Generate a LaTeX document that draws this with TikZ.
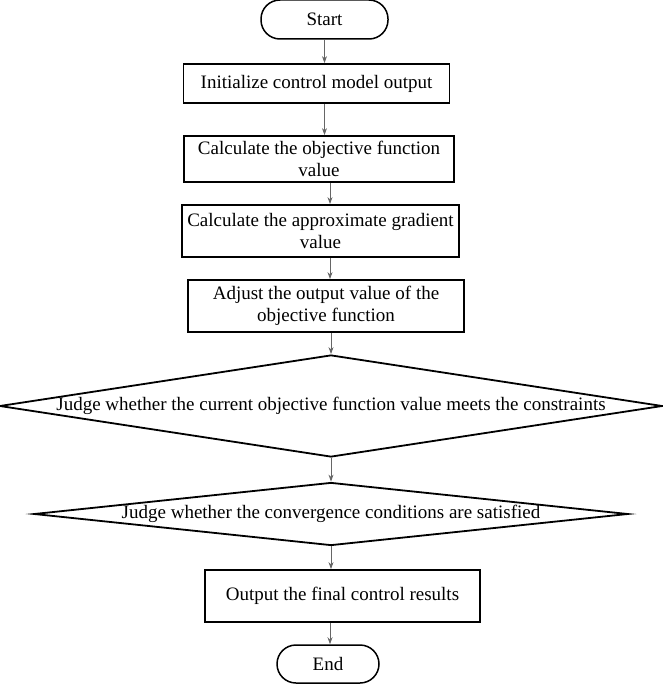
\documentclass[tikz,border=0pt]{standalone}
\usepackage{fontspec}
\setmainfont{Liberation Serif}
\usetikzlibrary{shapes.geometric,arrows.meta,calc}
\begin{document}
\begin{tikzpicture}[x=1pt,y=-1pt,
  every node/.style={font=\fontsize{19}{22}\selectfont},
  procbox/.style={draw=black,line width=1.8pt,rectangle,inner sep=0pt,align=center},
  termbox/.style={draw=black,line width=1.5pt,rectangle,rounded corners=19pt,inner sep=0pt},
  decbox/.style={draw=black,line width=1.8pt,diamond,inner sep=0pt},
  arr/.style={draw=black!60,line width=0.9pt,-{Stealth[length=7pt,width=5pt]}}]
\useasboundingbox (0,0) rectangle (663,685);
\node[termbox,minimum width=127pt,minimum height=39pt] (start) at (324.5,19.5) {Start};
\node[procbox,minimum width=266pt,minimum height=39pt] (b1) at (316.5,83.5) {Initialize control model output};
\node[procbox,minimum width=270pt,minimum height=46pt] (b2) at (319,159) {Calculate the objective function\\value};
\node[procbox,minimum width=277pt,minimum height=52pt] (b3) at (320.5,231) {Calculate the approximate gradient\\value};
\node[procbox,minimum width=276pt,minimum height=52pt] (b4) at (326,306) {Adjust the output value of the\\objective function};
\node[decbox,minimum width=662pt,minimum height=102pt,aspect=6.5] (d1) at (331,406) {Judge whether the current objective function value meets the constraints};
\node[decbox,minimum width=594pt,minimum height=63pt,aspect=9.4] (d2) at (331,514) {Judge whether the convergence conditions are satisfied};
\node[procbox,minimum width=275pt,minimum height=52pt] (b5) at (342.5,596) {Output the final control results};
\node[termbox,minimum width=102pt,minimum height=38pt] (end) at (328,664) {End};
\coordinate (ax) at (330,0);
\draw[arr] (start.south) -- (start.south |- b1.north);
\draw[arr] (b1.south -| start.south) -- (b2.north -| start.south);
\draw[arr] (b2.south -| ax) -- (b3.north -| ax);
\draw[arr] (b3.south -| ax) -- (b4.north -| ax);
\draw[arr] (b4.south -| d1.north) -- (d1.north);
\draw[arr] (d1.south) -- (d2.north);
\draw[arr] (d2.south) -- (d2.south |- b5.north);
\draw[arr] (b5.south -| ax) -- (end.north -| ax);
\end{tikzpicture}
\end{document}
